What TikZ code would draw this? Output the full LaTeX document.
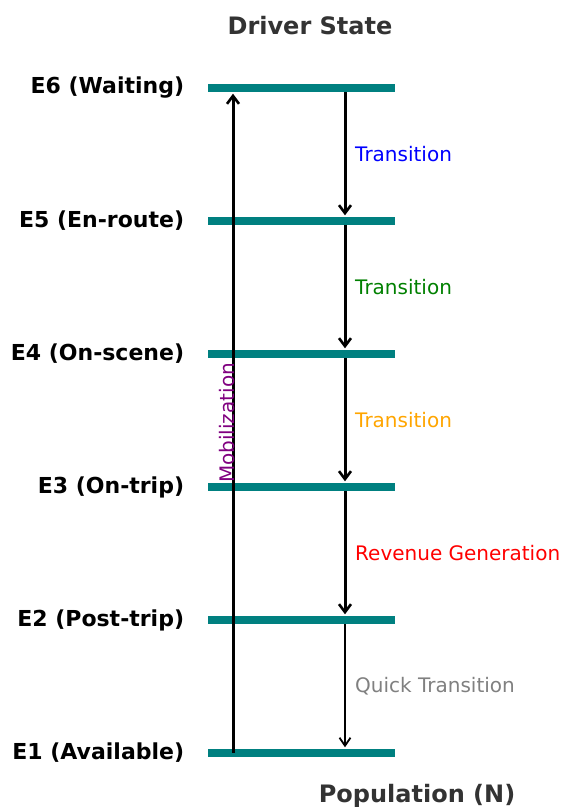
\documentclass[tikz,border=0pt]{standalone}
\usepackage{fontspec}
\setmainfont{DejaVu Sans}
\usetikzlibrary{arrows.meta}
\definecolor{barteal}{RGB}{0,128,128}
\definecolor{titlegray}{RGB}{51,51,51}
\definecolor{mobpurple}{RGB}{128,0,128}
\definecolor{trorange}{RGB}{255,165,0}
\definecolor{trgreen}{RGB}{0,128,0}
\definecolor{trgray}{RGB}{128,128,128}
\begin{document}
\begin{tikzpicture}[x=1pt,y=-1pt,
  bar/.style={fill=barteal,draw=none,inner sep=0pt,minimum width=187pt,minimum height=8pt},
  levellabel/.style={anchor=east,inner sep=0pt,font=\bfseries\fontsize{22}{26}\selectfont},
  trlabel/.style={anchor=west,inner sep=0pt,font=\fontsize{20}{24}\selectfont},
  axlabel/.style={inner sep=0pt,text=titlegray,font=\bfseries\fontsize{24}{28}\selectfont},
  tr/.style={line width=3pt,-{Straight Barb[length=8pt,width=12pt,line width=2.6pt]},shorten >=1.5pt},
  trthin/.style={line width=1.6pt,-{Straight Barb[length=8pt,width=11pt,line width=1.8pt]},shorten >=1.5pt},
  mob/.style={line width=3pt,-{Straight Barb[length=8pt,width=12pt,line width=2.6pt]},shorten >=1.5pt}]
\useasboundingbox (0,0) rectangle (562,807);
% bars
\node[bar] (b6) at (301,88) {};
\node[bar] (b5) at (301,221) {};
\node[bar] (b4) at (301,354) {};
\node[bar] (b3) at (301,487) {};
\node[bar] (b2) at (301,620) {};
\node[bar] (b1) at (301,753) {};
% level labels
\node[levellabel] (l6) at ([xshift=-23pt]b6.west) {E6 (Waiting)};
\node[levellabel] (l5) at ([xshift=-23pt]b5.west) {E5 (En-route)};
\node[levellabel] (l4) at ([xshift=-23pt]b4.west) {E4 (On-scene)};
\node[levellabel] (l3) at ([xshift=-23pt]b3.west) {E3 (On-trip)};
\node[levellabel] (l2) at ([xshift=-23pt]b2.west) {E2 (Post-trip)};
\node[levellabel] (l1) at ([xshift=-23pt]b1.west) {E1 (Available)};
% titles
\node[axlabel] (title) at (310,26) {Driver State};
\node[axlabel] (xlab) at (417,796) {Population (N)};
% transitions
\draw[tr] ([xshift=44pt]b6.south) -- ([xshift=44pt]b5.north);
\draw[tr] ([xshift=44pt]b5.south) -- ([xshift=44pt]b4.north);
\draw[tr] ([xshift=44pt]b4.south) -- ([xshift=44pt]b3.north);
\draw[tr] ([xshift=44pt]b3.south) -- ([xshift=44pt]b2.north);
\draw[trthin] ([xshift=44pt]b2.south) -- ([xshift=44pt]b1.north);
\node[trlabel,text=blue] (t65) at (355,154) {Transition};
\node[trlabel,text=trgreen] (t54) at (355,287) {Transition};
\node[trlabel,text=trorange] (t43) at (355,420) {Transition};
\node[trlabel,text=red] (t32) at (355,553) {Revenue Generation};
\node[trlabel,text=trgray] (t21) at (355,686) {Quick Transition};
% mobilization
\draw[mob] ([xshift=-68pt]b1.center) -- ([xshift=-68pt]b6.south);
\node[rotate=90,inner sep=0pt,text=mobpurple,font=\fontsize{20}{24}\selectfont] (mobl) at (227,423) {Mobilization};
\end{tikzpicture}
\end{document}
